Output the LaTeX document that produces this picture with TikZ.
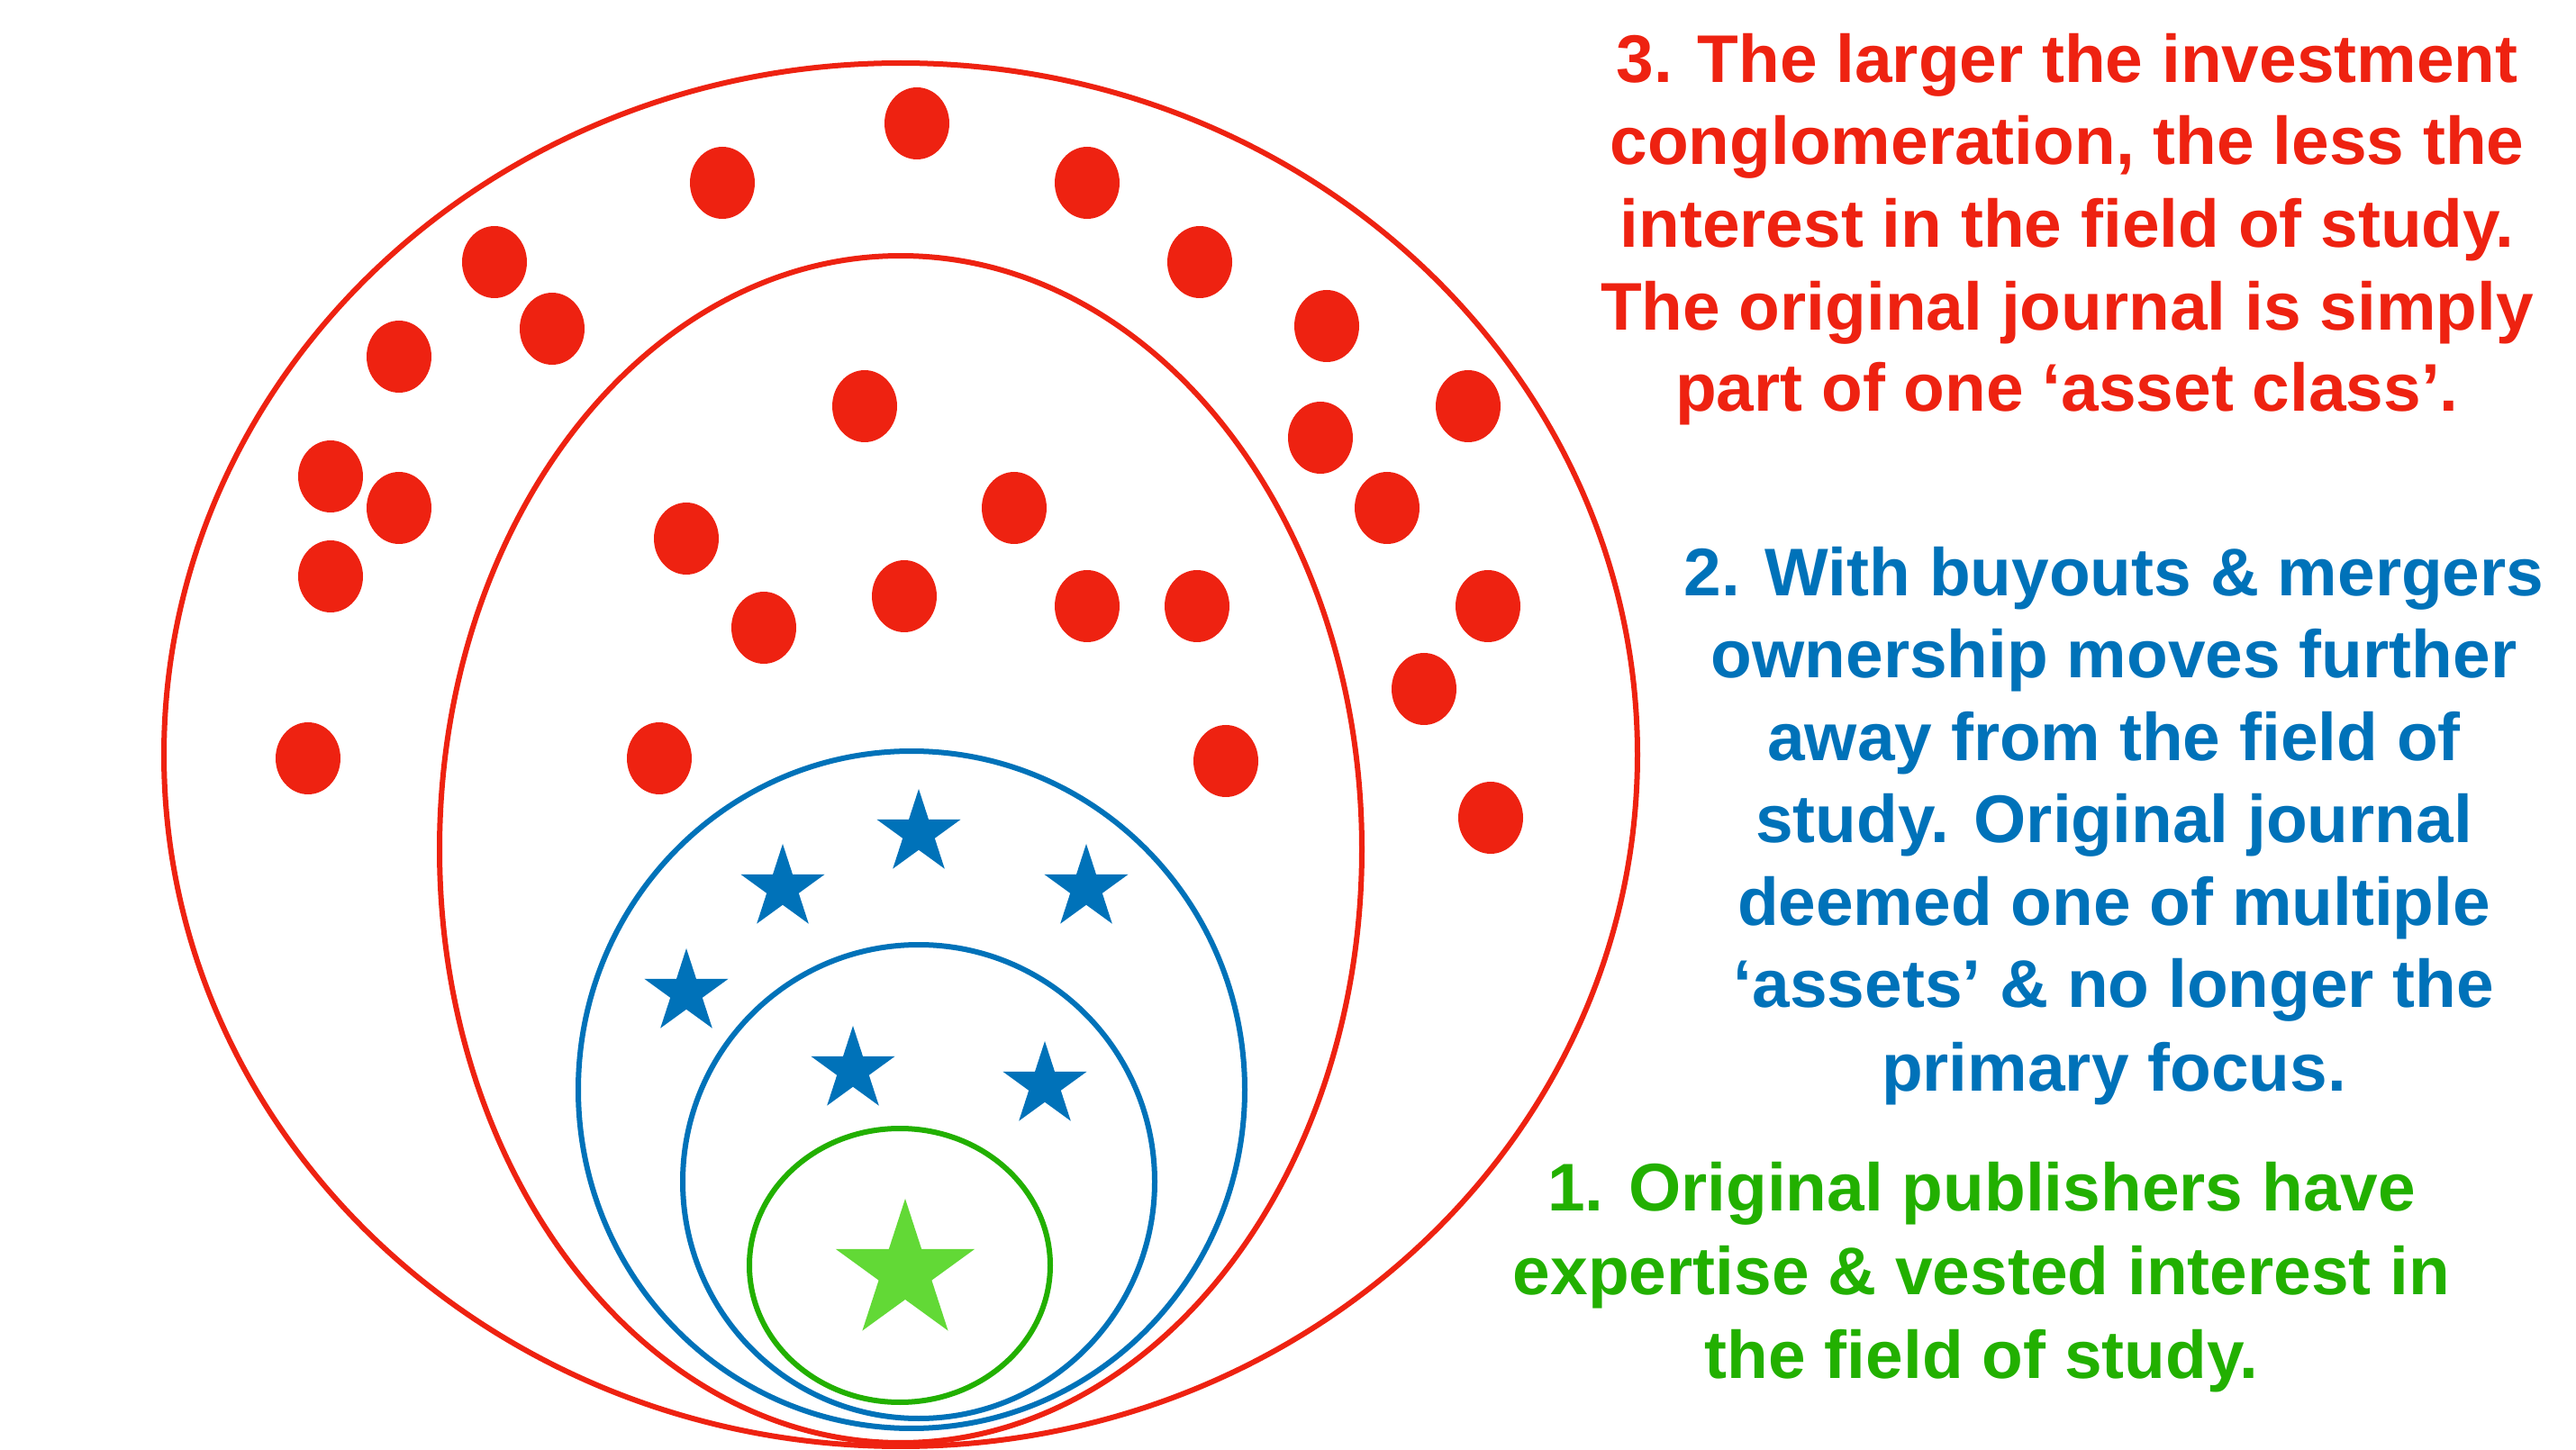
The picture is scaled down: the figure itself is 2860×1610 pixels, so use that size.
\documentclass[tikz,border=0pt]{standalone}
\usepackage{fontspec}
\setmainfont{Liberation Sans}
\usetikzlibrary{shapes.geometric}
\definecolor{cred}{RGB}{238,34,17}
\definecolor{cblue}{RGB}{0,114,185}
\definecolor{cgreen}{RGB}{34,176,0}
\definecolor{lgreen}{RGB}{98,217,54}
\begin{document}
\begin{tikzpicture}[x=0.1mm,y=-0.1mm,
  ring/.style={line width=0.6mm},
  dot/.style={fill=cred},
  bstar/.style={star, star points=5, star point ratio=2.618, minimum size=9.8mm, inner sep=0pt, fill=cblue, draw=none},
  gstar/.style={star, star points=5, star point ratio=2.618, minimum size=16.2mm, inner sep=0pt, fill=lgreen, draw=none},
  txt/.style={anchor=base, inner sep=0pt, font=\fontsize{21.3}{26}\selectfont\bfseries},
]
\useasboundingbox (0,0) rectangle (2860,1610);
\fill[white] (0,0) rectangle (2860,1610);

% rings
\draw[ring, cred] (1000,838) ellipse [x radius=81.8mm, y radius=76.8mm];
\draw[ring, cred] (1000,943) ellipse [x radius=51.2mm, y radius=65.9mm];
\draw[ring, cblue] (1012,1210) ellipse [x radius=37.0mm, y radius=37.6mm];
\draw[ring, cblue] (1020,1312) ellipse [x radius=26.2mm, y radius=26.3mm];
\draw[ring, cgreen] (999,1405) ellipse [x radius=16.7mm, y radius=15.2mm];

% red dots
\foreach \px/\py in {1018/137, 802/203, 1207/203, 549/291, 1332/291, 613/365,
  1473/362, 443/396, 1630/451, 960/451, 367/529, 1466/486, 443/564, 1126/564,
  1540/564, 762/598, 367/640, 1004/662, 1207/673, 1329/673, 1652/673, 848/697,
  1581/765, 342/842, 732/842, 1361/845, 1655/908}
  \fill[dot] (\px,\py) ellipse [x radius=3.6mm, y radius=4mm];

% stars
\node[gstar] (g1) at (1005,1412) {};
\node[bstar] (b1) at (1020,925) {};
\node[bstar] (b2) at (869,986) {};
\node[bstar] (b3) at (1206,986) {};
\node[bstar] (b4) at (762,1102) {};
\node[bstar] (b5) at (947,1188) {};
\node[bstar] (b6) at (1160,1205) {};

% text block 3
\node[txt, text=cred] (t3a) at (2295,92) {3. The larger the investment};
\node[txt, text=cred] (t3b) at (2295,183) {conglomeration, the less the};
\node[txt, text=cred] (t3c) at (2295,275) {interest in the field of study.};
\node[txt, text=cred] (t3d) at (2295,367) {The original journal is simply};
\node[txt, text=cred] (t3e) at (2295,457) {part of one ‘asset class’.};

% text block 2
\node[txt, text=cblue] (t2a) at (2347,662) {2. With buyouts \& mergers};
\node[txt, text=cblue] (t2b) at (2347,753) {ownership moves further};
\node[txt, text=cblue] (t2c) at (2347,845) {away from the field of};
\node[txt, text=cblue] (t2d) at (2347,936) {study. Original journal};
\node[txt, text=cblue] (t2e) at (2347,1028) {deemed one of multiple};
\node[txt, text=cblue] (t2f) at (2347,1119) {‘assets’ \& no longer the};
\node[txt, text=cblue] (t2g) at (2347,1211) {primary focus.};

% text block 1
\node[txt, text=cgreen] (t1a) at (2200,1344) {1. Original publishers have};
\node[txt, text=cgreen] (t1b) at (2200,1437) {expertise \& vested interest in};
\node[txt, text=cgreen] (t1c) at (2200,1530) {the field of study.};
\end{tikzpicture}
\end{document}
